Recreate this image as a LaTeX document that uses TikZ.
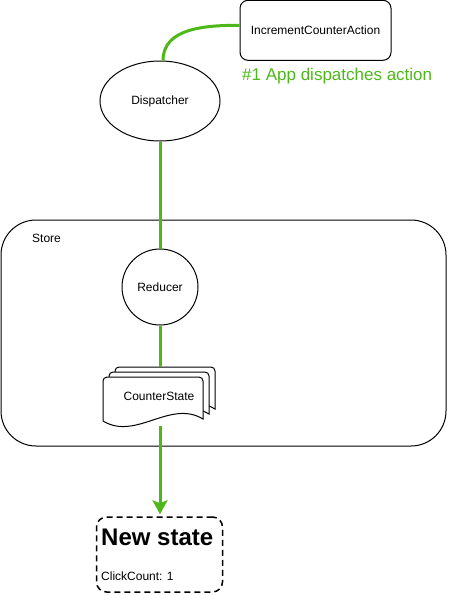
\documentclass[tikz,border=0pt]{standalone}
\usepackage{fontspec}
\setmainfont{Liberation Sans}
\usetikzlibrary{arrows.meta,shapes.geometric}
\definecolor{grn}{RGB}{77,184,26}
\newcommand\docsheet[2]{%
  \draw[docline] ({#1},{#2+44}) [rounded corners=4pt] -- ({#1},{#2}) -- ({#1+100},{#2}) [sharp corners] -- ({#1+100},{#2+42})
    .. controls ({#1+67},{#2+22}) and ({#1+33},{#2+64}) .. ({#1},{#2+44}) -- cycle;}
\begin{document}
\begin{tikzpicture}[x=1pt,y=-1pt,
  txt/.style={font=\fontsize{12}{14}\selectfont},
  shapeline/.style={draw=black,line width=1pt,fill=white,inner sep=0pt,txt},
  docline/.style={draw=black,line width=1pt,fill=white},
  flow/.style={draw=grn,line width=3pt},
  flowarrow/.style={flow,-{Stealth[length=14pt,width=15pt,inset=3pt]}}]
\useasboundingbox (0,0) rectangle (471,595);
% store container
\node[draw=black,line width=1pt,rounded corners=35pt,minimum width=445pt,minimum height=226pt,inner sep=0pt] (store) at (223.5,333) {};
\node[txt,anchor=west,inner sep=0pt] (storelbl) at (32,238) {Store};
% action box
\node[shapeline,rounded corners=8pt,minimum width=151pt,minimum height=60pt] (action) at (315.5,30.3) {IncrementCounterAction};
\node[anchor=west,inner sep=0pt,text=grn,font=\fontsize{17}{20}\selectfont] (note) at (242,76) {\#1 App dispatches action};
% dispatcher
\node[shapeline,ellipse,minimum width=120pt,minimum height=80pt] (disp) at (160,101) {Dispatcher};
% reducer
\node[shapeline,circle,minimum size=76pt] (reducer) at (160,287) {Reducer};
% counter state stack
\docsheet{115}{367}
\docsheet{109}{372}
\docsheet{103}{377}
\node[txt,inner sep=0pt,minimum width=112pt,minimum height=59pt] (cs) at (159,396.5) {CounterState};
% new state
\node[draw=black,line width=1.5pt,dash pattern=on 6pt off 4pt,rounded corners=10pt,minimum width=126pt,minimum height=75pt,inner sep=0pt] (ns) at (159.5,554.5) {};
\node[anchor=west,inner sep=0pt,font=\bfseries\fontsize{24}{28}\selectfont] (nstitle) at (101,537) {New state};
\node[txt,anchor=west,inner sep=0pt] (nsbody) at (101,576) {ClickCount: 1};
% connectors
\draw[flow] ([xshift=3pt]disp.north) to[out=90,in=180] ([yshift=5pt]action.west);
\draw[flow] (disp.south) -- (reducer.north);
\draw[flow] (reducer.south) -- (reducer.south |- cs.north);
\draw[flowarrow] (reducer.south |- cs.south) -- ([yshift=2pt]reducer.south |- ns.north);
\end{tikzpicture}
\end{document}
